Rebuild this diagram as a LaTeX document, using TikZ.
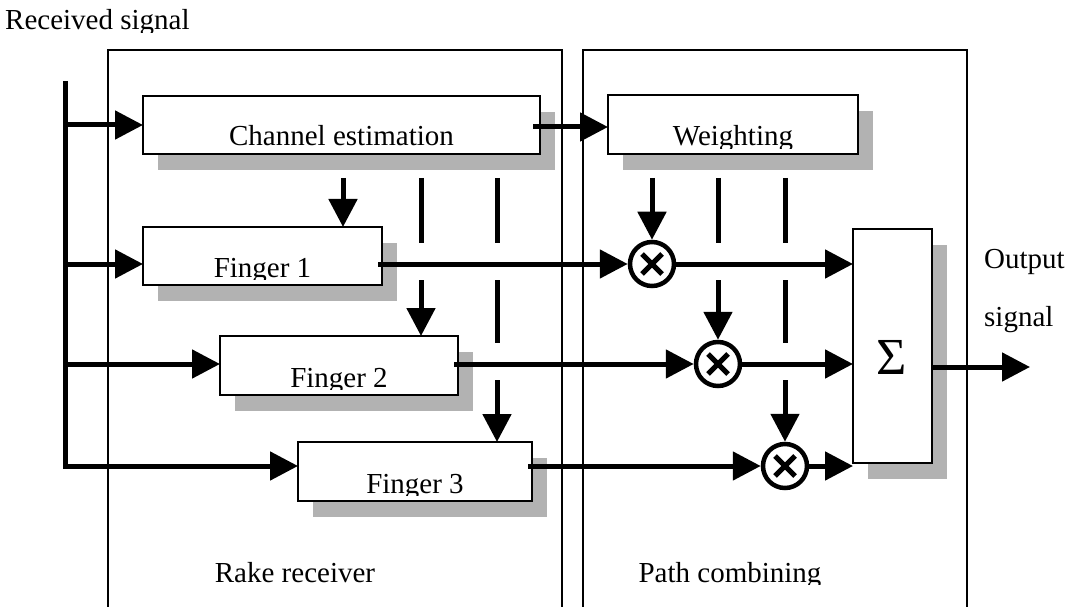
\documentclass[tikz,border=0pt]{standalone}
\usepackage{fontspec}
\setmainfont{Liberation Serif}
\usetikzlibrary{arrows.meta}

% block with a drop shadow: name, left, top, right, bottom
\newcommand\shadowblock[5]{%
  \fill[shadowfill] (#2+15,#3+16) rectangle (#4+15,#5+16);
  \node[blk, anchor=north west, minimum width=#4-#2, minimum height=#5-#3] (#1) at (#2,#3) {};}

% label sitting low in a block, descenders cut off: label name, block name, text
\newcommand\blocklabel[3]{%
  \begin{scope}
    \clip ([xshift=-250pt,yshift=5.5pt]#2.south) rectangle ([xshift=250pt,yshift=80pt]#2.south);
    \node[anchor=base] (#1) at ([yshift=8pt]#2.south) {#3};
  \end{scope}}

% free label with descenders cut off: name, x, baseline y, text, anchor
\newcommand\cutlabel[5]{%
  \begin{scope}
    \clip (#2-250,#3+2.5) rectangle (#2+250,#3-60);
    \node[anchor=#5, inner sep=0pt] (#1) at (#2,#3) {#4};
  \end{scope}}

\begin{document}
\begin{tikzpicture}[x=1pt,y=-1pt,
  font=\fontsize{29}{33}\selectfont,
  sig/.style={line width=5pt},
  arr/.style={sig,-{Triangle[length=28pt,width=28pt]}},
  frame/.style={line width=1.5pt},
  blk/.style={draw,line width=2.5pt,fill=white,inner sep=0pt,outer sep=0pt},
  shadowfill/.style={fill=black!30},
  mult/.style={circle,draw,line width=4.5pt,minimum size=44pt,inner sep=0pt,fill=white,
    path picture={
      \draw[line width=5pt]
        ([shift={(-10pt,-10pt)}]path picture bounding box.center) -- ([shift={(10pt,10pt)}]path picture bounding box.center)
        ([shift={(-10pt,10pt)}]path picture bounding box.center) -- ([shift={(10pt,-10pt)}]path picture bounding box.center);}},
]
\useasboundingbox (0,0) rectangle (1069,607);

% the two enclosing frames (open at the bottom)
\draw[frame] (108,607) -- (108,50) -- (562,50) -- (562,607);
\draw[frame] (583,607) -- (583,50) -- (967,50) -- (967,607);

% blocks
\shadowblock{ce}{143}{96}{540}{154}
\shadowblock{w}{608}{95}{858}{154}
\shadowblock{f1}{143}{227}{382}{285}
\shadowblock{f2}{220}{336}{458}{395}
\shadowblock{f3}{298}{442}{532}{501}
\shadowblock{s}{853}{229}{932}{463}

\blocklabel{cel}{ce}{Channel estimation}
\blocklabel{wl}{w}{Weighting}
\blocklabel{f1l}{f1}{Finger 1}
\blocklabel{f2l}{f2}{Finger 2}
\blocklabel{f3l}{f3}{Finger 3}
\node[font=\fontsize{52}{56}\selectfont] (sl) at (892,357) {Σ};

% multipliers
\node[mult] (m1) at (652,264) {};
\node[mult] (m2) at (718,364) {};
\node[mult] (m3) at (785,466) {};

% input bus and its branches
\coordinate (bustop) at (65,81);
\coordinate (b0) at (65,125);
\coordinate (b1) at (65,264);
\coordinate (b2) at (65,364);
\coordinate (b3) at (65,466);
\draw[arr] (bustop) -- (b3) -- (b3 -| f3.west);
\draw[arr] (b0) -- (b0 -| ce.west);
\draw[arr] (b1) -- (b1 -| f1.west);
\draw[arr] (b2) -- (b2 -| f2.west);

% channel estimate to weighting
\path (ce.east) ++(-7pt,-2pt) coordinate (cw);
\draw[arr] (cw) -- (cw -| w.west);

% finger outputs through the multipliers into the sum
\path (f1.east |- m1) ++(-4pt,0pt) coordinate (f1o);
\path (f2.east |- m2) ++(-4pt,0pt) coordinate (f2o);
\path (f3.east |- m3) ++(-4pt,0pt) coordinate (f3o);
\draw[arr] (f1o) -- (m1);
\draw[arr] (f2o) -- (m2);
\draw[arr] (f3o) -- (m3);
\draw[arr] (m1) -- (m1 -| s.west);
\draw[arr] (m2) -- (m2 -| s.west);
\draw[arr] (m3) -- (m3 -| s.west);

% sum output
\coordinate (out) at (1030,367);
\draw[arr] (out -| s.east) -- (out);

% channel estimates down to the fingers (broken where signal lines cross)
\coordinate (c1) at (343,178);
\coordinate (c2) at (421,178);
\coordinate (c3) at (497,178);
\draw[arr] (c1) -- (c1 |- f1.north);
\draw[sig] (c2) -- (421,243);
\draw[arr] (421,280) -- (c2 |- f2.north);
\draw[sig] (c3) -- (497,243);
\draw[sig] (497,280) -- (497,343);
\draw[arr] (497,380) -- (c3 |- f3.north);

% weights down to the multipliers
\coordinate (d1) at (652,178);
\coordinate (d2) at (718,178);
\coordinate (d3) at (785,178);
\draw[arr] (d1) -- (m1);
\draw[sig] (d2) -- (718,243);
\draw[arr] (718,280) -- (m2);
\draw[sig] (d3) -- (785,243);
\draw[sig] (785,280) -- (785,343);
\draw[arr] (785,380) -- (m3);

% free texts
\cutlabel{rs}{5}{30}{Received signal}{base west}
\cutlabel{rr}{295}{582}{Rake receiver}{base}
\cutlabel{pc}{730}{582}{Path combining}{base}
\node[anchor=base west, inner sep=0pt] (os1) at (984,268) {Output};
\node[anchor=base west, inner sep=0pt] (os2) at (984,326) {signal};
\end{tikzpicture}
\end{document}
